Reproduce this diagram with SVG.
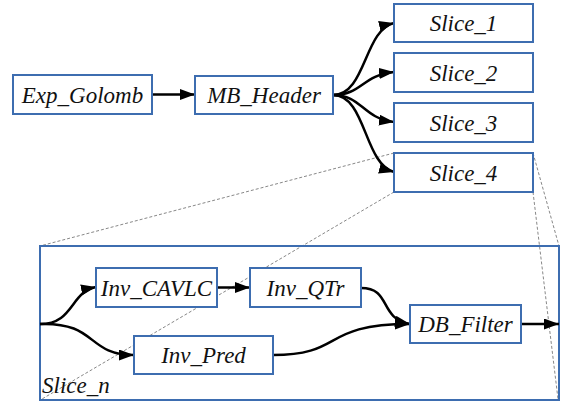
<svg xmlns="http://www.w3.org/2000/svg" width="561" height="402" viewBox="0 0 561 402">
<style>
.box{fill:#fff;stroke:#3d6db0;stroke-width:2}
.frame{fill:none;stroke:#3d6db0;stroke-width:2}
text{font-family:'Liberation Serif','Times New Roman',serif;font-style:italic;font-size:23px;fill:#111}
.lbl{text-anchor:middle}
.conn{fill:none;stroke:#000;stroke-width:2.5;marker-end:url(#ah)}
.guide{fill:none;stroke:#888;stroke-width:1;stroke-dasharray:3 2}
</style>
<defs>
<marker id="ah" markerUnits="userSpaceOnUse" markerWidth="16" markerHeight="12" refX="15" refY="5.5" orient="auto">
<path d="M0,0 L15,5.5 L0,11 z" fill="#000"/>
</marker>
</defs>
<rect width="561" height="402" fill="#fff"/>
<g id="guides">
<line class="guide" x1="394" y1="153" x2="40" y2="246"/>
<line class="guide" x1="394" y1="192" x2="42" y2="399"/>
<line class="guide" x1="533" y1="153" x2="559" y2="246"/>
<line class="guide" x1="533" y1="192" x2="558" y2="399"/>
</g>
<g id="slice_n">
<rect class="frame" x="40" y="246" width="519" height="154"/>
<text x="42" y="393">Slice_n</text>
</g>
<g id="connectors">
<path class="conn" d="M152,94.5 L195,94.5"/>
<path class="conn" d="M333,95 C366,95 364,30 394,23"/>
<path class="conn" d="M333,95 C362,95 362,75 394,72"/>
<path class="conn" d="M333,95 C362,95 362,118 394,122"/>
<path class="conn" d="M333,95 C366,95 364,164 394,172"/>
<path class="conn" d="M40,324 C74,324 70,292 96,287"/>
<path class="conn" d="M40,324 C98,322 86,355 134,355"/>
<path class="conn" d="M217,287.5 L250,287.5"/>
<path class="conn" d="M361,288 C392,288 378,318 410,324"/>
<path class="conn" d="M273,355 C345,355 320,324 410,324"/>
<path class="conn" d="M521,324 L559,324"/>
</g>
<g id="exp_golomb"><rect class="box" x="13" y="75" width="139" height="39"/><text class="lbl" x="82.5" y="102.5">Exp_Golomb</text></g>
<g id="mb_header"><rect class="box" x="195" y="76" width="138" height="38"/><text class="lbl" x="264" y="103">MB_Header</text></g>
<g id="slice_1"><rect class="box" x="394" y="4" width="139" height="38"/><text class="lbl" x="463.5" y="31">Slice_1</text></g>
<g id="slice_2"><rect class="box" x="394" y="53" width="139" height="39"/><text class="lbl" x="463.5" y="80.5">Slice_2</text></g>
<g id="slice_3"><rect class="box" x="394" y="103" width="139" height="39"/><text class="lbl" x="463.5" y="130.5">Slice_3</text></g>
<g id="slice_4"><rect class="box" x="394" y="153" width="139" height="39"/><text class="lbl" x="463.5" y="180.5">Slice_4</text></g>
<g id="inv_cavlc"><rect class="box" x="96" y="268" width="121" height="39"/><text class="lbl" x="156.5" y="295.5">Inv_CAVLC</text></g>
<g id="inv_qtr"><rect class="box" x="250" y="268" width="111" height="39"/><text class="lbl" x="305.5" y="295.5">Inv_QTr</text></g>
<g id="inv_pred"><rect class="box" x="134" y="336" width="139" height="38"/><text class="lbl" x="203.5" y="363">Inv_Pred</text></g>
<g id="db_filter"><rect class="box" x="410" y="305" width="111" height="38"/><text class="lbl" x="465.5" y="332">DB_Filter</text></g>
</svg>
